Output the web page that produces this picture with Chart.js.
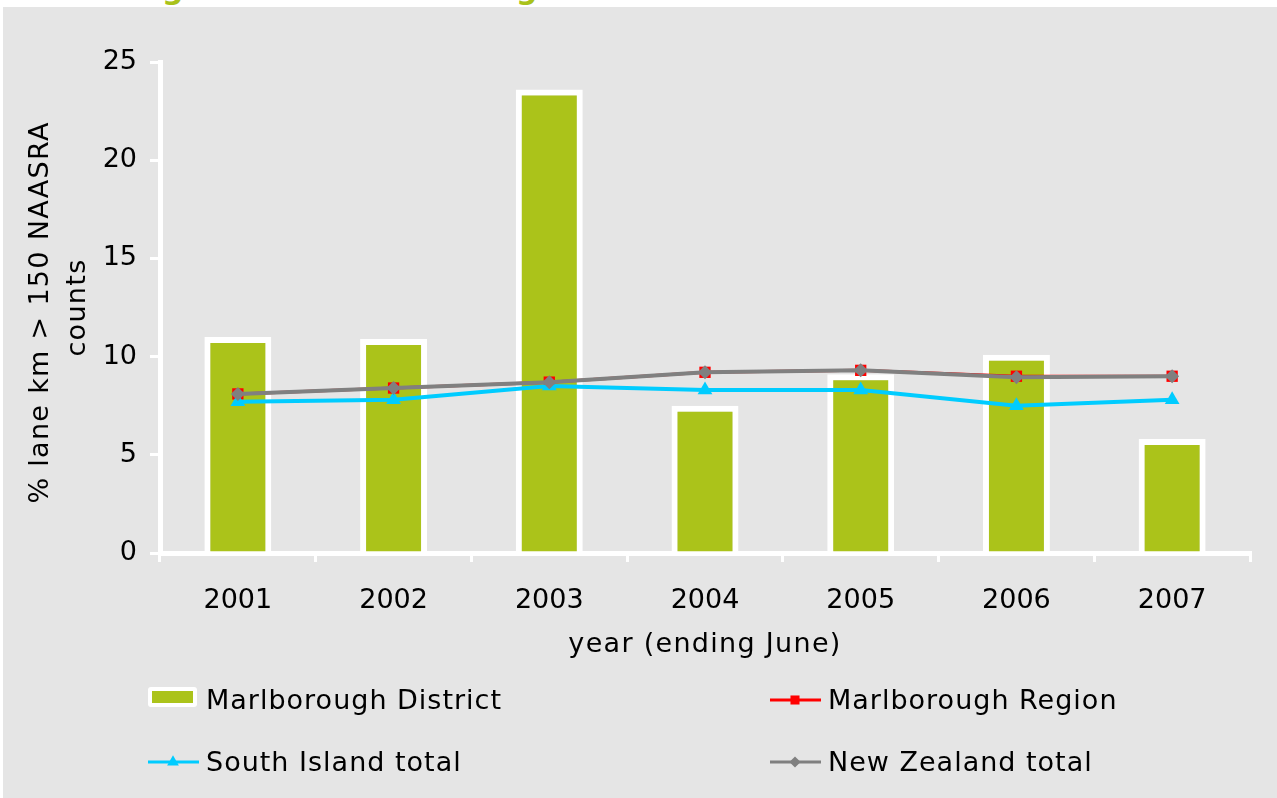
<!DOCTYPE html>
<html>
<head>
<meta charset="utf-8">
<script src="https://cdn.jsdelivr.net/npm/chart.js@4"></script>
<style>
html, body { margin: 0; padding: 0; background: #fff; }
body { width: 1277px; height: 798px; position: relative; overflow: hidden; }
#cut { position: absolute; left: 0; top: 0; width: 1277px; height: 7px; overflow: hidden; }
#cut span { position: absolute; top: -29px; line-height: 30px; font: bold 30px "DejaVu Sans"; color: #a9c21a; }
#wrap { position: absolute; left: 3px; top: 7px; width: 1274px; height: 791px; background: #e5e5e5; }
</style>
</head>
<body>
<div id="cut"><span style="left:162px">g</span><span style="left:516px">g</span></div>
<div id="wrap"><canvas id="chart" width="1274" height="791"></canvas></div>
<script>
// values
const years = ['2001', '2002', '2003', '2004', '2005', '2006', '2007'];
const districtValues = [11.0, 10.9, 23.6, 7.5, 9.1, 10.1, 5.8];
const regionValues = [8.1, 8.4, 8.7, 9.2, 9.3, 9.0, 9.0];
const southIslandValues = [7.7, 7.8, 8.5, 8.3, 8.3, 7.5, 7.8];
const nzValues = [8.1, 8.4, 8.7, 9.2, 9.3, 8.95, 9.0];
const yTicks = [0, 5, 10, 15, 20, 25];

const FONT = 'DejaVu Sans';
const TEXT = '#000';
const GREEN = '#abc31a';
const SPACING = '1.3px';

Chart.defaults.font.family = FONT;
Chart.defaults.font.size = 27;
Chart.defaults.color = TEXT;

// axis titles in the picture are tracked a little wider than the tick numbers
const baseDrawTitle = Chart.Scale.prototype.drawTitle;
Chart.Scale.prototype.drawTitle = function () {
    this.ctx.save();
    this.ctx.letterSpacing = SPACING;
    baseDrawTitle.call(this);
    this.ctx.restore();
};

function drawMarker(ctx, style, r, x, y) {
    ctx.beginPath();
    if (style === 'rect') {
        const s = r * Math.SQRT1_2;
        ctx.rect(x - s, y - s, 2 * s, 2 * s);
    } else if (style === 'rectRot') {
        ctx.moveTo(x, y - r);
        ctx.lineTo(x + r, y);
        ctx.lineTo(x, y + r);
        ctx.lineTo(x - r, y);
        ctx.closePath();
    } else if (style === 'triangle') {
        const a = r * Math.sqrt(3) / 2;
        ctx.moveTo(x, y - r);
        ctx.lineTo(x + a, y + r / 2);
        ctx.lineTo(x - a, y + r / 2);
        ctx.closePath();
    }
    ctx.fill();
}

// 2 x 2 legend under the axis title
const legendSlots = [[145, 693], [767, 693], [145, 755], [767, 755]];
const gridLegend = {
    id: 'gridLegend',
    afterDraw(chart) {
        const ctx = chart.ctx;
        ctx.save();
        chart.data.datasets.forEach((ds, i) => {
            const [x, y] = legendSlots[i];
            if (ds.type === 'bar') {
                ctx.fillStyle = '#fff';
                ctx.beginPath();
                ctx.roundRect(x, y - 13, 49, 20, 3);
                ctx.fill();
                ctx.fillStyle = ds.backgroundColor;
                ctx.fillRect(x + 4, y - 9, 41, 12);
            } else {
                ctx.strokeStyle = ds.borderColor;
                ctx.lineWidth = 3;
                ctx.beginPath();
                ctx.moveTo(x, y);
                ctx.lineTo(x + 51, y);
                ctx.stroke();
                ctx.fillStyle = ds.pointBackgroundColor;
                drawMarker(ctx, ds.pointStyle, ds.pointRadius * 0.8, x + 25, y);
            }
            ctx.fillStyle = TEXT;
            ctx.font = '27px "' + FONT + '"';
            ctx.letterSpacing = '1px';
            ctx.textBaseline = 'middle';
            ctx.textAlign = 'left';
            ctx.fillText(ds.label, x + 58, y + 2);
        });
        ctx.restore();
    }
};

new Chart(document.getElementById('chart'), {
    data: {
        labels: years,
        datasets: [
            {
                type: 'bar',
                label: 'Marlborough District',
                data: districtValues,
                backgroundColor: GREEN,
                borderColor: '#fff',
                borderWidth: 6,
                barPercentage: 0.43,
                categoryPercentage: 1,
                order: 4
            },
            {
                type: 'line',
                label: 'Marlborough Region',
                data: regionValues,
                borderColor: '#ff0000',
                borderWidth: 3,
                pointStyle: 'rect',
                pointRadius: 8,
                pointBackgroundColor: '#ff0000',
                pointBorderWidth: 0,
                tension: 0,
                order: 3
            },
            {
                type: 'line',
                label: 'South Island total',
                data: southIslandValues,
                borderColor: '#00ccff',
                borderWidth: 4,
                pointStyle: 'triangle',
                pointRadius: 8.5,
                pointBackgroundColor: '#00ccff',
                pointBorderWidth: 0,
                tension: 0,
                order: 2
            },
            {
                type: 'line',
                label: 'New Zealand total',
                data: nzValues,
                borderColor: '#808080',
                borderWidth: 4,
                pointStyle: 'rectRot',
                pointRadius: 7,
                pointBackgroundColor: '#808080',
                pointBorderWidth: 0,
                tension: 0,
                order: 1
            }
        ]
    },
    options: {
        responsive: false,
        animation: false,
        layout: { padding: { top: 55, right: 27, bottom: 0, left: 0 } },
        plugins: {
            legend: { display: false },
            tooltip: { enabled: false }
        },
        scales: {
            x: {
                type: 'category',
                offset: true,
                afterFit: axis => { axis.height = 245; },
                grid: { offset: true, drawOnChartArea: false, color: '#fff', lineWidth: 3, tickLength: 9 },
                border: { color: '#fff', width: 5 },
                ticks: { padding: 23, color: TEXT },
                title: { display: true, text: 'year (ending June)', color: TEXT, padding: { top: 0, bottom: 137 } }
            },
            y: {
                min: 0,
                max: 25,
                afterBuildTicks: axis => { axis.ticks = yTicks.map(v => ({ value: v })); },
                afterFit: axis => { axis.width = 157; },
                grid: { drawOnChartArea: false, color: '#fff', lineWidth: 3, tickLength: 10 },
                border: { color: '#fff', width: 5 },
                ticks: { padding: 13, color: TEXT },
                title: {
                    display: true,
                    text: ['% lane km > 150 NAASRA ', 'counts'],
                    color: TEXT,
                    font: { size: 27, lineHeight: 1.37 },
                    padding: { top: 19, bottom: 0 }
                }
            }
        }
    },
    plugins: [gridLegend]
});
</script>
</body>
</html>
